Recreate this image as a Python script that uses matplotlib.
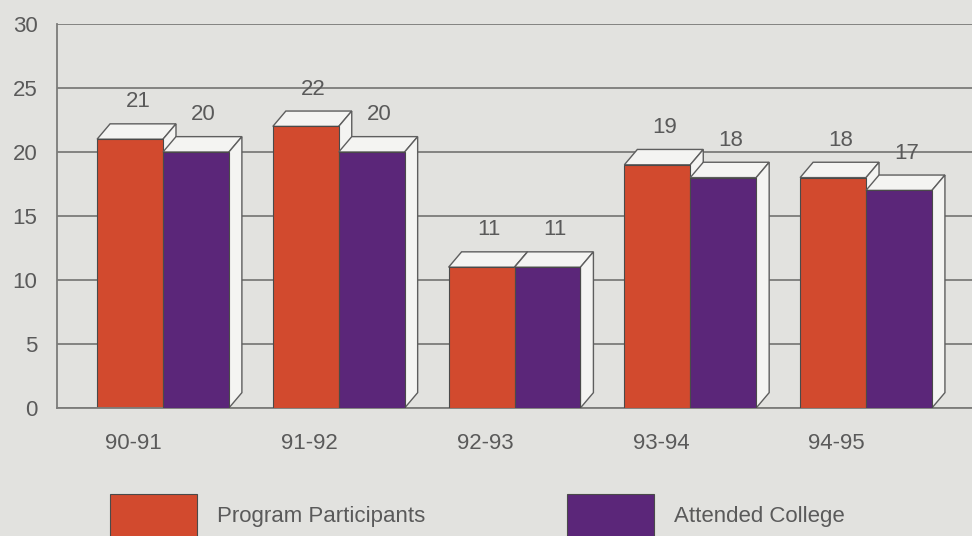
import matplotlib.pyplot as plt
from matplotlib.patches import Polygon, Patch

plt.rcParams['font.family'] = ['Liberation Sans Narrow', 'Liberation Sans', 'DejaVu Sans']

years = ['90-91', '91-92', '92-93', '93-94', '94-95']
participants = [21, 22, 11, 19, 18]
attended = [20, 20, 11, 18, 17]

red = '#d24a2e'
purple = '#5b2679'
bg = '#e2e2df'
line = '#7c7c7a'
txt = '#5a5a5a'

w = 0.375      # width of one bar front
dx = 0.074     # depth offset, x units
dy = 1.2       # depth offset, y units

fig = plt.figure(figsize=(9.72, 5.36), dpi=100, facecolor=bg)
ax = fig.add_axes([57 / 972, 1 - 408 / 536, 1 - 57 / 972, (408 - 24) / 536])
ax.set_facecolor(bg)


def box(x0, h, color, z):
    # front face
    ax.bar(x0, h, width=w, align='edge', color=color, edgecolor='#4a4a4a',
           linewidth=0.8, zorder=z + 0.2)
    # top face
    top = [(x0, h), (x0 + w, h), (x0 + w + dx, h + dy), (x0 + dx, h + dy)]
    ax.add_patch(Polygon(top, closed=True, facecolor='#f4f4f2', edgecolor='#5e5e5e',
                         linewidth=1.0, zorder=z))
    # right side face
    side = [(x0 + w, 0), (x0 + w + dx, dy), (x0 + w + dx, h + dy), (x0 + w, h)]
    ax.add_patch(Polygon(side, closed=True, facecolor='#f4f4f2', edgecolor='#5e5e5e',
                         linewidth=1.0, zorder=z))


for i, (p, a) in enumerate(zip(participants, attended)):
    box(i - w, p, red, 2 + i)
    box(i, a, purple, 2.5 + i)
    ax.text(i - w / 2 + dx * 0.6, p + dy + 0.9, str(p), ha='center', va='bottom',
            fontsize=16, color=txt, zorder=10)
    ax.text(i + w / 2 + dx * 0.6, a + dy + 0.9, str(a), ha='center', va='bottom',
            fontsize=16, color=txt, zorder=10)

ax.set_xlim(-0.603, 4.603)
ax.set_ylim(0, 30)
ax.set_yticks(range(0, 31, 5))
ax.yaxis.grid(True, color=line, linewidth=1.3, zorder=0)
ax.set_axisbelow(True)
ax.set_xticks([i - w / 2 + 0.02 for i in range(len(years))])
ax.set_xticklabels(years)
ax.tick_params(axis='both', length=0, labelsize=16, labelcolor=txt)
ax.tick_params(axis='y', pad=14)
ax.tick_params(axis='x', pad=18)

for s in ['top', 'right']:
    ax.spines[s].set_visible(False)
for s in ['left', 'bottom']:
    ax.spines[s].set_color(line)
    ax.spines[s].set_linewidth(1.3)

# legend sits low, its swatches run off the bottom edge
handles = [Patch(facecolor=red, edgecolor='#4a4a4a', linewidth=0.8),
           Patch(facecolor=purple, edgecolor='#4a4a4a', linewidth=0.8)]
fig.legend(handles, ['Program Participants', 'Attended College'], ncol=2,
           loc='lower left', bbox_to_anchor=(110 / 972, -1 / 536), frameon=False,
           fontsize=16, labelcolor=txt, handlelength=3.9, handleheight=2.6,
           handletextpad=0.9, columnspacing=6.4, borderpad=0, borderaxespad=0)

fig.savefig('out.png', dpi=100, facecolor=bg)
